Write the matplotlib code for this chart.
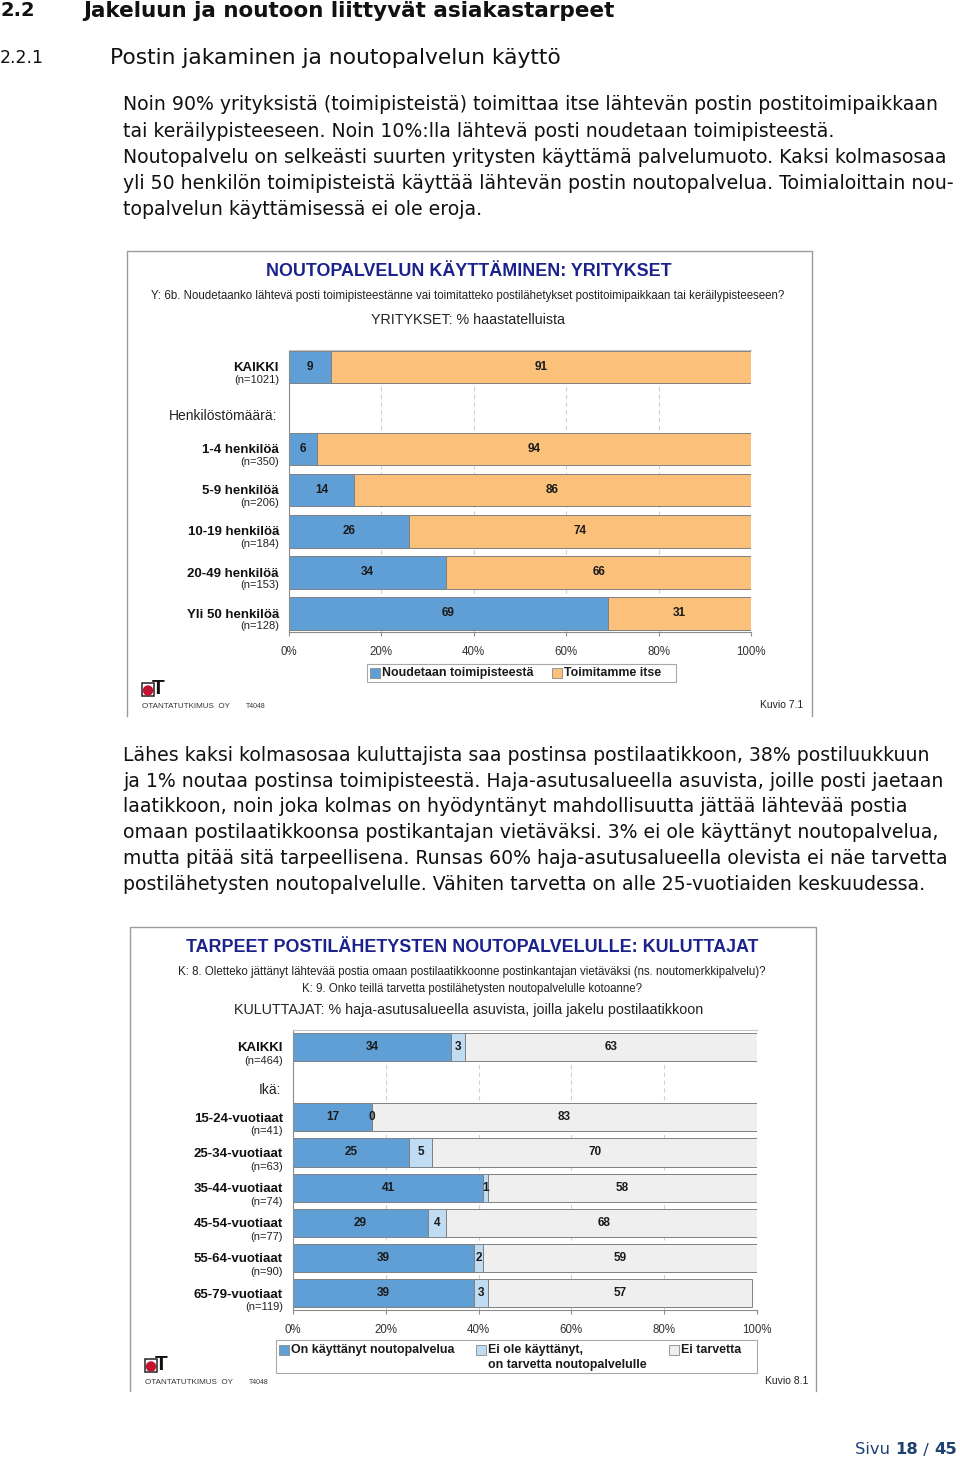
import matplotlib
matplotlib.use('Agg')
import matplotlib.pyplot as plt
from matplotlib.patches import Rectangle, Ellipse
from matplotlib.lines import Line2D

# --- chart 1: yritykset ---
rows1 = ['KAIKKI', '1-4 henkilöä', '5-9 henkilöä', '10-19 henkilöä', '20-49 henkilöä', 'Yli 50 henkilöä']
n1 = [1021, 350, 206, 184, 153, 128]
noudetaan = [9, 6, 14, 26, 34, 69]
itse = [91, 94, 86, 74, 66, 31]
series1 = ['Noudetaan toimipisteestä', 'Toimitamme itse']

# --- chart 2: kuluttajat ---
rows2 = ['KAIKKI', '15-24-vuotiaat', '25-34-vuotiaat', '35-44-vuotiaat', '45-54-vuotiaat',
         '55-64-vuotiaat', '65-79-vuotiaat']
n2 = [464, 41, 63, 74, 77, 90, 119]
kayttanyt = [34, 17, 25, 41, 29, 39, 39]
tarvetta = [3, 0, 5, 1, 4, 2, 3]
ei_tarvetta = [63, 83, 70, 58, 68, 59, 57]
series2 = ['On käyttänyt noutopalvelua', 'Ei ole käyttänyt,\non tarvetta noutopalvelulle', 'Ei tarvetta']

ticks = [0, 20, 40, 60, 80, 100]

para1 = [
    "Noin 90% yrityksistä (toimipisteistä) toimittaa itse lähtevän postin postitoimipaikkaan",
    "tai keräilypisteeseen. Noin 10%:lla lähtevä posti noudetaan toimipisteestä.",
    "Noutopalvelu on selkeästi suurten yritysten käyttämä palvelumuoto. Kaksi kolmasosaa",
    "yli 50 henkilön toimipisteistä käyttää lähtevän postin noutopalvelua. Toimialoittain nou-",
    "topalvelun käyttämisessä ei ole eroja.",
]
para2 = [
    "Lähes kaksi kolmasosaa kuluttajista saa postinsa postilaatikkoon, 38% postiluukkuun",
    "ja 1% noutaa postinsa toimipisteestä. Haja-asutusalueella asuvista, joille posti jaetaan",
    "laatikkoon, noin joka kolmas on hyödyntänyt mahdollisuutta jättää lähtevää postia",
    "omaan postilaatikkoonsa postikantajan vietäväksi. 3% ei ole käyttänyt noutopalvelua,",
    "mutta pitää sitä tarpeellisena. Runsas 60% haja-asutusalueella olevista ei näe tarvetta",
    "postilähetysten noutopalvelulle. Vähiten tarvetta on alle 25-vuotiaiden keskuudessa.",
]

sans = ['Liberation Sans', 'DejaVu Sans']
narrow = ['Liberation Sans Narrow', 'Liberation Sans', 'DejaVu Sans']
body = ['DejaVu Sans']
plt.rcParams['font.family'] = sans

BLUE = '#5f9fd6'
ORANGE = '#fbc17b'
LBLUE = '#bfdcf3'
LGRAY = '#efefef'
NAVY = '#1b228c'

W, H = 960, 1462
fig = plt.figure(figsize=(W / 100, H / 100), dpi=100)
rend = fig.canvas.get_renderer()


def fx(x):
    return x / W


def fy(y):
    return 1 - y / H


def fit_size(s, width, size=10, **kw):
    t = fig.text(0, 0, s, fontsize=size, **kw)
    w = t.get_window_extent(renderer=rend).width
    t.remove()
    return size * width / w


def put(x, y, s, size=10, fit=None, **kw):
    kw.setdefault('va', 'center')
    if fit:
        size = fit_size(s, fit, size, family=kw.get('family'), weight=kw.get('weight', 'normal'))
    return fig.text(fx(x), fy(y), s, fontsize=size, **kw)


# headings
put(0, 11, '2.2', 14, weight='bold', family=body, color='#111')
put(83, 11, 'Jakeluun ja noutoon liittyvät asiakastarpeet', 14, fit=535, weight='bold', family=body, color='#111')
put(0, 58, '2.2.1', 12.5, family=body, color='#111')
put(110, 58, 'Postin jakaminen ja noutopalvelun käyttö', 12.5, fit=452, family=body, color='#111')

# paragraphs
bs = fit_size(para1[0], 814, family=body)
for i, line in enumerate(para1):
    put(123, 105 + i * 26.2, line, bs, family=body, color='#111')
for i, line in enumerate(para2):
    put(123, 755 + i * 26, line, bs, family=body, color='#111')

# footer
x = 855
for s, wt in [('Sivu ', 'normal'), ('18', 'bold'), (' / ', 'normal'), ('45', 'bold')]:
    t = put(x, 1450, s, 11.8, family=body, weight=wt, color='#1f416f')
    x += t.get_window_extent(renderer=rend).width


def frame(x0, y0, x1, y1):
    fig.add_artist(Line2D([fx(x0), fx(x0), fx(x1), fx(x1)], [fy(y1), fy(y0), fy(y0), fy(y1)],
                          color='#9c9c9c', lw=1))


def logo(x, y, tag_x):
    fig.add_artist(Rectangle((fx(x), fy(y + 13)), 12 / W, 13 / H, fill=False, ec='#222', lw=1.1))
    fig.add_artist(Ellipse((fx(x + 6), fy(y + 7.5)), 9 / W, 9 / H, color='#c1122e'))
    put(x + 10, y + 6, 'T', 15, weight='bold', family=sans, color='#111')
    put(x, y + 23, 'OTANTATUTKIMUS  OY', 6, fit=88, family=sans, color='#333')
    put(tag_x, y + 24, 'T4048', 5, family=sans, color='#333')


def legend(x0, y0, x1, y1, items, size):
    fig.add_artist(Rectangle((fx(x0), fy(y1)), (x1 - x0) / W, (y1 - y0) / H, fill=False, ec='#a8a8a8', lw=0.8))
    for x, y, label, col in items:
        fig.add_artist(Rectangle((fx(x), fy(y + 5)), 10 / W, 10 / H, fc=col, ec='#8a8a8a', lw=0.6))
        for i, part in enumerate(label.split('\n')):
            put(x + 12, y + i * 15, part, size, weight='bold', family=narrow, color='#1a1a1a')


def chart(rect, ylim, pos, names, ns, series, colors, header, header_dy, lab_off):
    ax = fig.add_axes([fx(rect[0]), fy(rect[3]), (rect[2] - rect[0]) / W, (rect[3] - rect[1]) / H])
    left = [0] * len(pos)
    for vals, col in zip(series, colors):
        ax.barh(pos, vals, left=left, height=0.8, color=col, edgecolor='#808080', lw=0.7, zorder=2)
        for p, l, v in zip(pos, left, vals):
            ax.text(l + v / 2, p, str(v), ha='center', va='center', fontsize=8.5,
                    weight='bold', color='#1a1a1a', zorder=3)
        left = [a + b for a, b in zip(left, vals)]
    ax.set_xlim(0, 100)
    ax.set_ylim(*ylim)
    ax.set_yticks([])
    ax.set_xticks(ticks)
    ax.set_xticklabels([f'{t}%' for t in ticks])
    ax.tick_params(axis='x', length=3, color='#8c8c8c', labelsize=8.3, labelcolor='#333', pad=7)
    ax.xaxis.grid(True, ls=(0, (4, 3)), color='#d0d0d0', lw=0.8)
    gl = ax.xaxis.get_gridlines()
    gl[0].set_visible(False)
    gl[-1].set_visible(False)
    ax.set_axisbelow(True)
    ax.spines['right'].set_visible(False)
    ax.spines['top'].set_color('#c8c8c8')
    ax.spines['left'].set_color('#8c8c8c')
    ax.spines['bottom'].set_color('#8c8c8c')
    for p, name, n in zip(pos, names, ns):
        ax.annotate(name, (0, p), xycoords=('axes fraction', 'data'), xytext=(-lab_off, -1),
                    textcoords='offset points', ha='right', va='center', fontsize=9.5,
                    weight='bold', color='#111')
        ax.annotate(f'(n={n})', (0, p), xycoords=('axes fraction', 'data'), xytext=(-lab_off, -header_dy[1]),
                    textcoords='offset points', ha='right', va='center', fontsize=8, color='#222')
    ax.annotate(header, (0, 1), xycoords=('axes fraction', 'data'), xytext=(-lab_off - 1.5, -header_dy[0]),
                textcoords='offset points', ha='right', va='center', fontsize=10, color='#222')
    return ax


# ---------- chart 1 ----------
frame(127, 251, 812, 716)
put(469, 272, 'NOUTOPALVELUN KÄYTTÄMINEN: YRITYKSET', 12, fit=402, ha='center', weight='bold',
    family=narrow, color=NAVY)
put(468, 296, 'Y: 6b. Noudetaanko lähtevä posti toimipisteestänne vai toimitatteko postilähetykset '
    'postitoimipaikkaan tai keräilypisteeseen?', 8, fit=640, ha='center', family=narrow, color='#222')
put(468, 320, 'YRITYKSET: % haastatelluista', 9, fit=194, ha='center', family=sans, color='#222')

pos1 = [0] + list(range(2, 2 + len(rows1) - 1))
chart((289, 350, 751, 632), (6.46, -0.415), pos1, rows1, n1, [noudetaan, itse], [BLUE, ORANGE],
      'Henkilöstömäärä:', (5.8, 9.6), 7.2)
legend(367, 664, 676, 682, [(370, 673, series1[0], BLUE), (552, 673, series1[1], ORANGE)],
       fit_size(series1[0], 151, weight='bold', family=narrow))
logo(142, 683, 246)
put(803, 705, 'Kuvio 7.1', 7.5, ha='right', family=sans, color='#222')

# ---------- chart 2 ----------
frame(130, 927, 816, 1391)
put(472, 948, 'TARPEET POSTILÄHETYSTEN NOUTOPALVELULLE: KULUTTAJAT', 12, fit=570, ha='center',
    weight='bold', family=narrow, color=NAVY)
put(472, 972, 'K: 8. Oletteko jättänyt lähtevää postia omaan postilaatikkoonne postinkantajan vietäväksi '
    '(ns. noutomerkkipalvelu)?', 8, fit=594, ha='center', family=narrow, color='#222')
put(472, 989, 'K: 9. Onko teillä tarvetta postilähetysten noutopalvelulle kotoanne?', 8, fit=343,
    ha='center', family=narrow, color='#222')
put(469, 1010, 'KULUTTAJAT: % haja-asutusalueella asuvista, joilla jakelu postilaatikkoon', 10, fit=466,
    ha='center', family=sans, color='#222')

pos2 = [0] + list(range(2, 2 + len(rows2) - 1))
chart((293, 1030, 757, 1310), (7.48, -0.484), pos2, rows2, n2, [kayttanyt, tarvetta, ei_tarvetta],
      [BLUE, LBLUE, LGRAY], 'Ikä:', (5.8, 10.2), 7.2)
legend(276, 1340, 757, 1373, [(279, 1350, series2[0], BLUE), (476, 1350, series2[1], LBLUE),
                              (669, 1350, series2[2], LGRAY)],
       fit_size(series2[0], 162, weight='bold', family=narrow))
logo(145, 1359, 249)
put(808, 1381, 'Kuvio 8.1', 7.5, ha='right', family=sans, color='#222')

fig.savefig('out.png', dpi=100)
